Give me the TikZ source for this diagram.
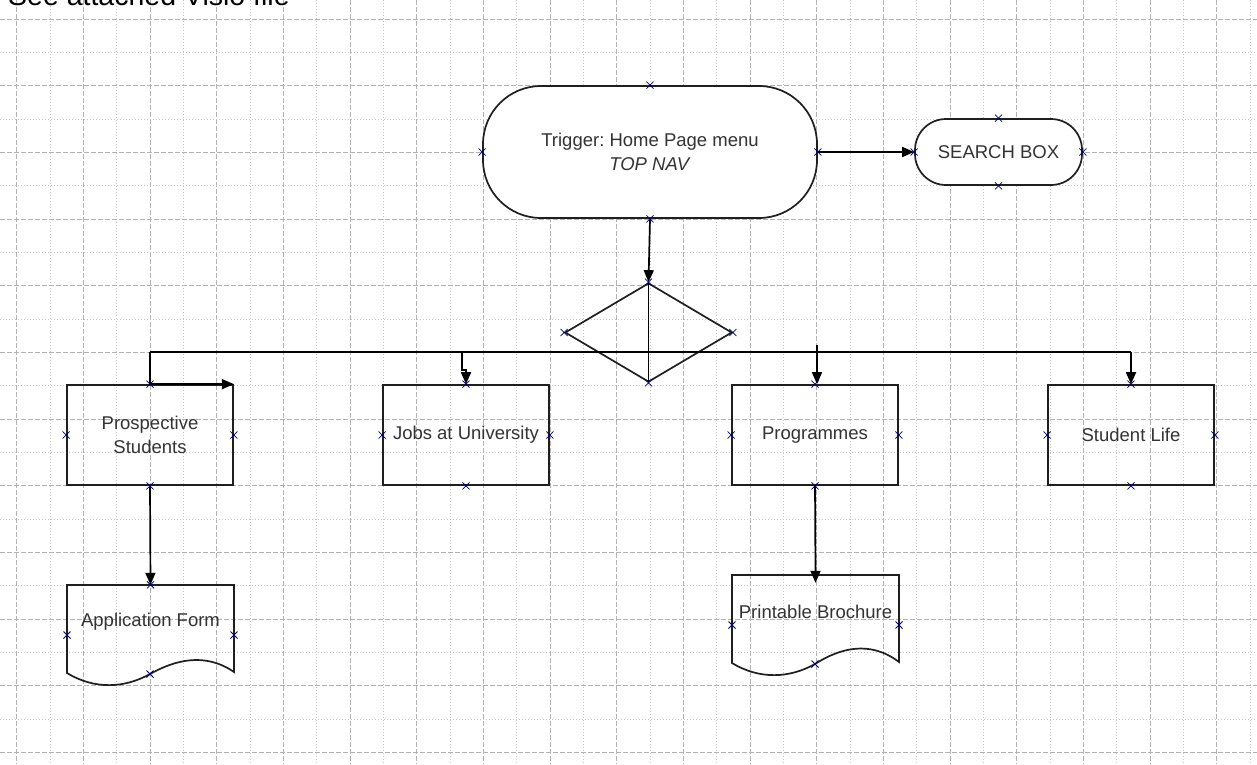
\documentclass[tikz,border=0pt]{standalone}
\usepackage{fontspec}
\setmainfont{Liberation Sans}
\usetikzlibrary{arrows.meta,shapes.geometric}
\frenchspacing

% small connection-point cross drawn at a given point
\newcommand\cpmark[1]{\draw[cpx] (#1) +(-3.5,-3.5) -- +(3.5,3.5) +(-3.5,3.5) -- +(3.5,-3.5);}

\begin{document}
\begin{tikzpicture}[x=1pt,y=-1pt,
  lbl/.style={font=\fontsize{18.5}{24}\selectfont, text=black!80, align=center},
  shapeline/.style={draw=black!88, line width=1.7pt},
  box/.style={shapeline, rectangle, minimum width=166pt, minimum height=100pt, inner sep=0pt, lbl},
  term/.style={shapeline, rectangle, rounded corners=#1, fill=white, inner sep=0pt, lbl},
  docnode/.style={rectangle, draw=none, minimum width=167pt, minimum height=74pt, inner sep=0pt, lbl},
  conn/.style={draw=black, line width=1.7pt},
  arr/.style={conn, -{Triangle[length=12pt,width=10pt]}},
  cpx/.style={draw=blue!45!black, line width=0.8pt},
  gdash/.style={draw=black!30, line width=0.8pt, dash pattern=on 5pt off 2pt},
  gdot/.style={draw=black!22, line width=0.8pt, dash pattern=on 1pt off 2pt},
]
\useasboundingbox (0,0) rectangle (1257,764);
\clip (0,0) rectangle (1257,764);
\fill[white] (0,0) rectangle (1257,764);

% drawing-page grid
\foreach \i in {0,...,37}{
  \pgfmathsetmacro\gx{16.667+33.333*\i}
  \ifodd\i \draw[gdot] (\gx,0) -- (\gx,764); \else \draw[gdash] (\gx,0) -- (\gx,764); \fi
}
\foreach \j in {0,...,22}{
  \pgfmathsetmacro\gy{19+33.333*\j}
  \ifodd\j \draw[gdot] (0,\gy) -- (1257,\gy); \else \draw[gdash] (0,\gy) -- (1257,\gy); \fi
}

% heading line above the page
\node[anchor=base west, inner sep=0pt, font=\fontsize{28.5}{32}\selectfont] (note) at (8,5.5) {See attached Visio file};

% shapes
\node[term=58pt, minimum width=334pt, minimum height=132pt] (trig) at (650,152)
  {Trigger: Home Page menu\\\textit{TOP NAV}};
\node[term=31pt, minimum width=167pt, minimum height=66pt] (sb) at (998.5,152) {SEARCH BOX};
\node[shapeline, diamond, minimum width=167pt, minimum height=99pt, inner sep=0pt] (dec) at (648.5,332.5) {};

\node[box] (ps) at (150,435) {Prospective\\Students};
\node[box] (jobs) at (466,435) {Jobs at University};
\node[box] (prog) at (815,435) {Programmes};
\node[box] (sl) at (1131,435) {Student Life};

% document shapes with wavy lower edge
\draw[shapeline] (67,585) -- (234,585) -- (234,672)
  .. controls (205,652) and (175,660) .. (150,674)
  .. controls (125,688) and (95,690) .. (67,673) -- cycle;
\node[docnode] (af) at (150.5,622) {Application Form};
\draw[shapeline] (732,575) -- (899,575) -- (899,662)
  .. controls (870,640) and (840,648) .. (815,664)
  .. controls (790,678) and (760,680) .. (732,663) -- cycle;
\node[docnode] (pb) at (815.5,612) {Printable Brochure};

% connectors
\coordinate (busl) at (150,352);
\coordinate (busr) at (1131,352);
\coordinate (jtap) at (462,352);
\coordinate (ptap) at (817,345);

\draw[arr] (trig.east) -- (sb.west);
\draw[arr] (trig.south) -- (dec.north);
\draw[conn] (dec.north) -- (dec.south);
\draw[conn] (busl) -- (busr);
\draw[arr] (busl) -- (ps.north) -- (ps.north east);
\draw[arr] (jtap) -- ++(0,18) -| (jobs.north);
\draw[arr] (ptap) -- (ptap |- prog.north);
\draw[arr] (busr) -- (sl.north);
\draw[arr] (ps.south) -- (af.north);
\draw[arr, shorten >=-8pt] (prog.south) -- (pb.north);

% connection points
\foreach \a in {trig.north,trig.south,trig.east,trig.west,
                sb.north,sb.south,sb.east,sb.west,
                dec.north,dec.south,dec.east,dec.west,
                ps.north,ps.south,ps.east,ps.west,
                jobs.north,jobs.south,jobs.east,jobs.west,
                prog.north,prog.south,prog.east,prog.west,
                sl.north,sl.south,sl.east,sl.west,
                af.north}
  {\cpmark{\a}}
\cpmark{67,635}
\cpmark{234,635}
\cpmark{150,674}
\cpmark{732,625}
\cpmark{899,625}
\cpmark{815,664}
\end{tikzpicture}
\end{document}
